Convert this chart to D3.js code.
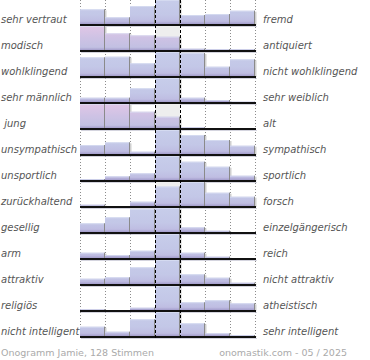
<!DOCTYPE html>
<html><head><meta charset="utf-8">
<script src="https://cdn.jsdelivr.net/npm/d3@7"></script>
<style>
html,body{margin:0;padding:0;background:#fff;}
svg{display:block;}
text{font-family:"DejaVu Sans",Verdana,sans-serif;}
</style></head>
<body><svg id="c" width="370" height="360"></svg>
<script>
const leftLabels = ["sehr vertraut","modisch","wohlklingend","sehr männlich"," jung","unsympathisch","unsportlich","zurückhaltend","gesellig","arm","attraktiv","religiös","nicht intelligent"];
const rightLabels = ["fremd","antiquiert","nicht wohlklingend","sehr weiblich","alt","sympathisch","sportlich","forsch","einzelgängerisch","reich","nicht attraktiv","atheistisch","sehr intelligent"];
const steps = [1,2,3,4,5,6,7];
const pinkRows = [1,4];
const values = [
  [15.7, 7.7, 19, 25, 10, 11, 14.3],
  [25, 17.7, 15.7, 14.3, 2.3, 2, 2],
  [19.7, 20.3, 13.7, 25, 24, 10.3, 17.7],
  [5.3, 5.3, 14.7, 25, 5.3, 3, 1.3],
  [25, 25, 17.3, 12.3, 1.7, 0, 0],
  [10, 12.7, 3.3, 25, 20, 15, 9.3],
  [2, 4.7, 7.7, 25, 19.3, 14.3, 5.3],
  [2.3, 0, 5.3, 20.5, 25, 14.3, 10.3],
  [9.7, 15.7, 24, 25, 5.7, 2.3, 1],
  [6.3, 4, 8.3, 25, 6.3, 2.3, 0],
  [6.3, 7.7, 17.7, 25, 10.7, 7.3, 2.3],
  [1.7, 0, 3.3, 25, 8.7, 10.7, 7.7],
  [10.3, 5.3, 17.7, 25, 13.7, 3.7, 2]
];
const footerLeft = "Onogramm Jamie, 128 Stimmen";
const footerRight = "onomastik.com - 05 / 2025";

const svg = d3.select("#c");
const x = d3.scaleBand().domain(steps).range([80,255]).paddingInner(0).paddingOuter(0);
const rowY = d3.scaleLinear().domain([0,1]).range([25,51]);
const rowH = 25;
const defs = svg.append("defs");

function grad(id, top, mid){
  const g = defs.append("linearGradient").attr("id",id).attr("x1",0).attr("y1",0).attr("x2",0).attr("y2",1);
  g.append("stop").attr("offset","0").attr("stop-color",top);
  g.append("stop").attr("offset","0.55").attr("stop-color",mid);
  g.append("stop").attr("offset","0.85").attr("stop-color","#c0c0e2");
  g.append("stop").attr("offset","1").attr("stop-color","#9d94c6");
}

// grid dotted lines (behind)
const gridX = [80,105,130,205,230,255];
svg.append("g").selectAll("line").data(gridX).join("line")
  .attr("x1",d=>d+0.5).attr("x2",d=>d+0.5).attr("y1",0).attr("y2",339)
  .attr("stroke","#8c8c8c").attr("stroke-width",1).attr("stroke-dasharray","1,2");

values.forEach((row,i)=>{
  const base = rowY(i);
  const top = base - rowH;
  const mx = d3.max(row);
  const y = d3.scaleLinear().domain([0,mx]).range([base, top]);
  const pink = pinkRows.includes(i);
  const gid = "g"+i;
  const g = defs.append("linearGradient").attr("id",gid).attr("gradientUnits","userSpaceOnUse")
    .attr("x1",0).attr("x2",0).attr("y1",top).attr("y2",base);
  const stops = pink
    ? [[0,"#e0c6e6"],[0.5,"#cdc2e4"],[0.85,"#c2c0e2"],[1,"#9a92c4"]]
    : [[0,"#c7cdea"],[0.6,"#c3c7e7"],[0.85,"#bfbde2"],[1,"#9a92c4"]];
  stops.forEach(s=>g.append("stop").attr("offset",s[0]).attr("stop-color",s[1]));

  const rg = svg.append("g");
  // center column background
  rg.append("rect").attr("x",x(4)).attr("y",top).attr("width",x.bandwidth()).attr("height",rowH)
    .attr("fill","#eeeeee");
  const bars = rg.selectAll("g.bar").data(row.map((v,k)=>({v,k:steps[k]})).filter(d=>d.v>0)).join("g");
  // soft shadow
  bars.append("rect").attr("x",d=>x(d.k)+x.bandwidth()).attr("y",d=>y(d.v)+1)
    .attr("width",1.5).attr("height",d=>base-y(d.v)-1).attr("fill","#d0d0d0");
  bars.append("rect").attr("x",d=>x(d.k)).attr("y",d=>y(d.v))
    .attr("width",x.bandwidth()).attr("height",d=>base-y(d.v)).attr("fill",`url(#${gid})`);
  bars.append("rect").attr("x",d=>x(d.k)).attr("y",d=>y(d.v))
    .attr("width",x.bandwidth()).attr("height",d=>Math.min(1,base-y(d.v))).attr("fill","#dadff2").attr("opacity",0.7);
  bars.append("rect").attr("x",d=>x(d.k)+x.bandwidth()-1).attr("y",d=>y(d.v))
    .attr("width",1).attr("height",d=>base-y(d.v)).attr("fill","#8a8a8a");
  // baseline
  rg.append("rect").attr("x",80).attr("y",base-1).attr("width",176).attr("height",2).attr("fill","#111");
  rg.append("rect").attr("x",81).attr("y",base+1).attr("width",176).attr("height",1).attr("fill","#b8b8c8").attr("opacity",0.6);

  svg.append("text").attr("x",1).attr("y",base-2).attr("font-size",10).attr("font-style","italic")
    .attr("fill","#555").attr("xml:space","preserve").style("white-space","pre").text(leftLabels[i]);
  svg.append("text").attr("x",263).attr("y",base-2).attr("font-size",10).attr("font-style","italic")
    .attr("fill","#555").text(rightLabels[i]);
});

// center dashed lines on top
svg.append("g").selectAll("line").data([155,180]).join("line")
  .attr("x1",d=>d+0.5).attr("x2",d=>d+0.5).attr("y1",0).attr("y2",339)
  .attr("stroke","#000").attr("stroke-width",1).attr("stroke-dasharray","3,2");

svg.append("text").attr("x",1).attr("y",356).attr("font-size",9.5).attr("fill","#aaa").text(footerLeft);
svg.append("text").attr("x",347).attr("y",356).attr("text-anchor","end").attr("font-size",9.5).attr("fill","#aaa").text(footerRight);
</script></body></html>
